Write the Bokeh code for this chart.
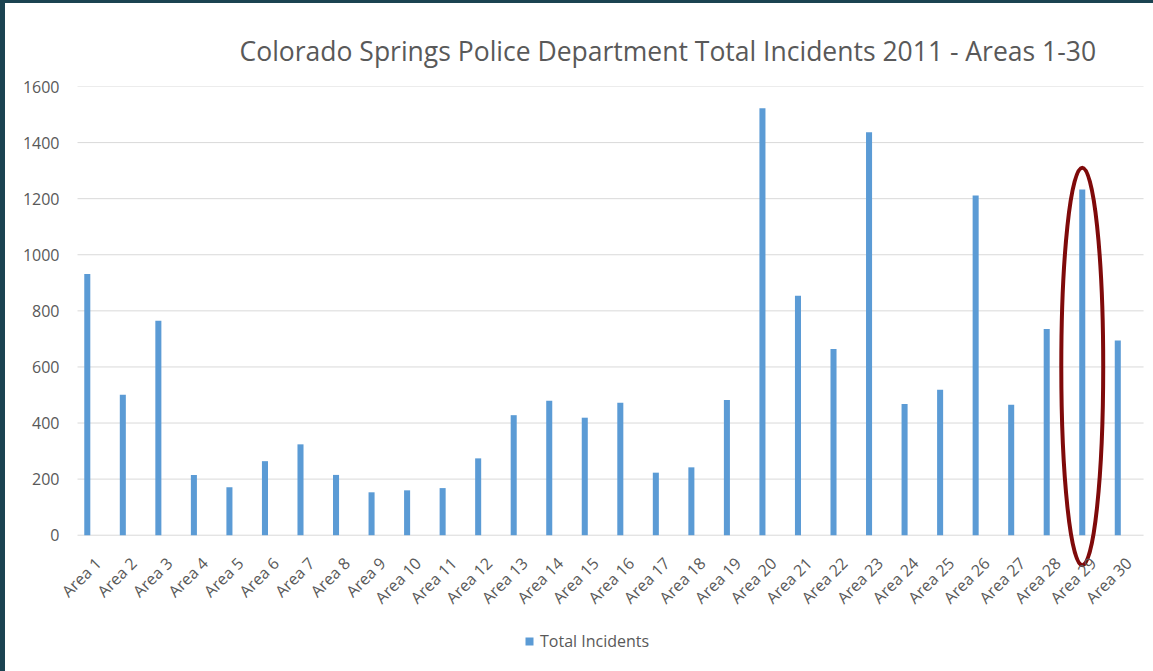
import math
from bokeh.plotting import figure
from bokeh.models import (Range1d, FixedTicker, Legend, LegendItem,
                          ColumnDataSource, GlobalInlineStyleSheet)
from bokeh.embed import file_html
from bokeh.resources import INLINE

# ---------------- data ----------------
areas = ["Area 1", "Area 2", "Area 3", "Area 4", "Area 5", "Area 6", "Area 7",
         "Area 8", "Area 9", "Area 10", "Area 11", "Area 12", "Area 13", "Area 14",
         "Area 15", "Area 16", "Area 17", "Area 18", "Area 19", "Area 20",
         "Area 21", "Area 22", "Area 23", "Area 24", "Area 25", "Area 26",
         "Area 27", "Area 28", "Area 29", "Area 30"]
incidents = [931, 501, 765, 215, 171, 264, 324, 215, 153, 160,
             168, 274, 428, 479, 419, 472, 223, 242, 482, 1522,
             854, 664, 1437, 468, 519, 1211, 465, 735, 1233, 694]
y_ticks = [0, 200, 400, 600, 800, 1000, 1200, 1400, 1600]
highlight = "Area 29"
series_name = "Total Incidents"
title_text = "Colorado Springs Police Department Total Incidents 2011 - Areas 1-30"

# ---------------- styles ----------------
FONT = "Open Sans"
TEXT = "#595959"
GRID = "#D9D9D9"
BAR = "#5B9BD5"
RING = "#7F0A0A"
BAR_OFFSET = -0.225            # bar sits left of the category centre (Excel cluster slot)
X_START, X_END = -0.507, 30.28  # category slots span [0, 30]; extra room for rotated labels
Y_BOTTOM = -486                # frame extends below zero so category labels / ring are not clipped

n = len(areas)
centers = [i + 0.5 for i in range(n)]
src = ColumnDataSource(dict(area=areas, count=incidents,
                            xc=centers, xb=[c + BAR_OFFSET for c in centers],
                            base=[0] * n))
hi = areas.index(highlight)
hi_val = incidents[hi]
ring_src = ColumnDataSource(dict(x=[centers[hi] + BAR_OFFSET], yc=[hi_val / 2 - 15],
                                 h=[hi_val * 1.15]))
grid_src = ColumnDataSource(dict(x0=[0] * len(y_ticks), x1=[n] * len(y_ticks),
                                 y=y_ticks))

frame_css = GlobalInlineStyleSheet(css="""
html { background: #ffffff; }
body { border-left: 5px solid #1b4351; border-top: 3px solid #1b4351; }
""")

p = figure(x_range=Range1d(X_START, X_END), y_range=Range1d(Y_BOTTOM, 1600),
           width=1148, height=668, output_backend="svg", toolbar_location=None,
           min_border_left=54, min_border_right=0, min_border_top=83,
           min_border_bottom=0)
p.stylesheets = [frame_css]
p.outline_line_color = None
p.background_fill_color = "white"
p.border_fill_color = "white"

# horizontal gridlines over the category slots only
p.segment(x0="x0", x1="x1", y0="y", y1="y", source=grid_src,
          line_color=GRID, line_width=1)

bars = p.vbar(x="xb", top="count", width=0.17, source=src,
              fill_color=BAR, line_color=None)

p.ellipse(x="x", y="yc", width=1.18, height="h", source=ring_src,
          fill_color=None, line_color=RING, line_width=4)

# category labels (rotated 45 degrees), drawn under the zero line
p.text(x="xc", y="base", text="area", source=src, angle=math.pi / 4,
       text_align="right", text_baseline="middle", x_offset=3, y_offset=25,
       text_font_size="16px", text_color=TEXT,
       text_font={"value": FONT})

# title
p.title.text = title_text
p.title.align = "left"
p.title.offset = 180
p.title.standoff = 36
p.title.vertical_align = "bottom"
p.title.text_font = FONT
p.title.text_font_size = "26.5px"
p.title.text_font_style = "normal"
p.title.text_color = TEXT

# axes
p.xaxis.visible = False
p.yaxis.ticker = FixedTicker(ticks=y_ticks)
p.yaxis.axis_line_color = None
p.yaxis.major_tick_line_color = None
p.yaxis.major_tick_out = 0
p.yaxis.major_tick_in = 0
p.yaxis.minor_tick_line_color = None
p.yaxis.major_label_standoff = 0
p.yaxis.major_label_text_font = FONT
p.yaxis.major_label_text_font_size = "16px"
p.yaxis.major_label_text_color = TEXT

p.xgrid.grid_line_color = None
p.ygrid.grid_line_color = None

# legend
legend = Legend(items=[LegendItem(label=series_name, renderers=[bars])],
                location=(465, 19), orientation="horizontal",
                glyph_width=10, glyph_height=10,
                label_standoff=6, padding=0, margin=0, border_line_color=None,
                background_fill_alpha=0, label_text_font=FONT,
                label_text_font_size="16px", label_text_color=TEXT)
p.add_layout(legend)

open("out.html", "w").write(file_html(p, INLINE))
